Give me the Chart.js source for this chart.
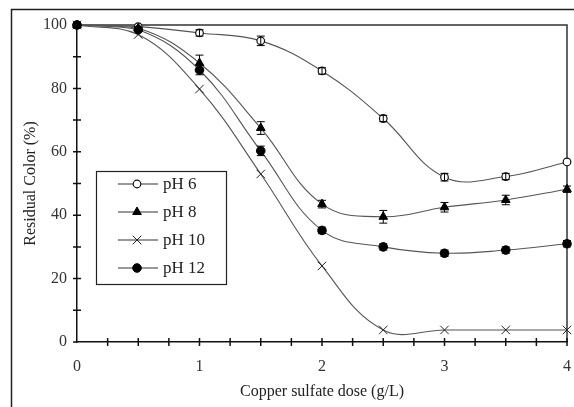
<!DOCTYPE html>
<html><head><meta charset="utf-8">
<script src="https://cdn.jsdelivr.net/npm/chart.js@4/dist/chart.umd.min.js"></script>
<style>html,body{margin:0;padding:0;background:#fff;}#wrap{width:574px;height:407px;position:relative;}</style>
</head><body><div id="wrap"><canvas id="c" width="574" height="407"></canvas></div>
<script>
const doses = [0, 0.5, 1, 1.5, 2, 2.5, 3, 3.5, 4];
const ph6  = [100, 99.5, 97.5, 95, 85.5, 70.5, 52, 52.2, 56.8];
const ph8  = [100, 99, 88, 67.5, 43.5, 39.5, 42.5, 44.8, 48.2];
const ph10 = [100, 97, 79.8, 53, 24, 3.8, 3.8, 3.8, 3.8];
const ph12 = [100, 98.5, 85.8, 60.3, 35.2, 30, 28, 29, 31];
const err6  = [0, 0, 1, 1.5, 1, 1, 1.2, 1, 0];
const err8  = [0, 0, 2.5, 2, 1.2, 2, 1.5, 1.5, 1];
const err10 = [0, 0, 0, 0, 0, 0, 0, 0, 0];
const err12 = [0, 0, 1.5, 1.5, 1, 1, 1, 1, 1];
const yTicks = [0, 20, 40, 60, 80, 100];
const xTicks = [0, 1, 2, 3, 4];
const seriesNames = ['pH 6', 'pH 8', 'pH 10', 'pH 12'];

function pts(vals){ return doses.map((d,i)=>({x:d, y:vals[i]})); }

const serif = "'Liberation Serif','DejaVu Serif',serif";
const lineCol = '#555';

const datasets = [
  {label: seriesNames[0], data: pts(ph6), err: err6, order: 4, pointStyle:'circle', pointRadius:3.8, backgroundColor:'#fff', borderColor:'#111', pointBorderWidth:1.2},
  {label: seriesNames[1], data: pts(ph8), err: err8, order: 3, pointStyle:'triangle', pointRadius:5, backgroundColor:'#000', borderColor:'#000', pointBorderWidth:1},
  {label: seriesNames[2], data: pts(ph10), err: err10, order: 2, pointStyle:'crossRot', pointRadius:6, backgroundColor:'#222', borderColor:'#222', pointBorderWidth:1},
  {label: seriesNames[3], data: pts(ph12), err: err12, order: 1, pointStyle:'circle', pointRadius:4.3, backgroundColor:'#000', borderColor:'#000', pointBorderWidth:1}
].map(d => Object.assign(d, {
  showLine: true, tension: 0.4, borderWidth: 1.1, clip: false,
  segment: {borderColor: () => lineCol},
  pointBackgroundColor: d.backgroundColor, pointBorderColor: d.borderColor,
  fill: false
}));

const framePlugin = {
  id: 'frame',
  beforeDraw(chart){
    const ctx = chart.ctx;
    ctx.save();
    ctx.strokeStyle = '#222'; ctx.lineWidth = 1.5;
    ctx.strokeRect(11.5, 9.5, 700, 600);
    ctx.restore();
  },
  beforeDatasetsDraw(chart){
    const ctx = chart.ctx, a = chart.chartArea;
    ctx.save();
    ctx.strokeStyle = '#333'; ctx.lineWidth = 1.5;
    ctx.beginPath();
    ctx.moveTo(a.left, a.top); ctx.lineTo(a.right, a.top); ctx.lineTo(a.right, a.bottom);
    ctx.stroke();
    ctx.restore();
  },
  afterDatasetsDraw(chart){
    const ctx = chart.ctx, xs = chart.scales.x, ys = chart.scales.y;
    ctx.save();
    ctx.strokeStyle = '#000'; ctx.lineWidth = 1;
    chart.data.datasets.forEach(ds => {
      ds.data.forEach((p,i) => {
        const e = ds.err[i]; if (!e) return;
        const px = xs.getPixelForValue(p.x);
        const y1 = ys.getPixelForValue(p.y + e), y2 = ys.getPixelForValue(p.y - e);
        ctx.beginPath();
        ctx.moveTo(px, y1); ctx.lineTo(px, y2);
        ctx.moveTo(px-4, y1); ctx.lineTo(px+4, y1);
        ctx.moveTo(px-4, y2); ctx.lineTo(px+4, y2);
        ctx.stroke();
      });
    });
    ctx.restore();
  },
  afterDraw(chart){
    const ctx = chart.ctx, xs = chart.scales.x, ys = chart.scales.y, a = chart.chartArea;
    ctx.save();
    ctx.strokeStyle = '#111'; ctx.lineWidth = 1.5;
    ctx.beginPath();
    for (let v = 10; v <= 90; v += 10) {
      const py = ys.getPixelForValue(v);
      ctx.moveTo(a.left-4, py); ctx.lineTo(a.left+4, py);
    }
    ctx.moveTo(a.left-4, ys.getPixelForValue(0)); ctx.lineTo(a.left, ys.getPixelForValue(0));
    ctx.moveTo(a.left-4, ys.getPixelForValue(100)); ctx.lineTo(a.left, ys.getPixelForValue(100));
    for (let v = 0.25; v <= 4; v += 0.25) {
      const px = xs.getPixelForValue(v);
      ctx.moveTo(px, a.bottom-4); ctx.lineTo(px, a.bottom+4);
    }
    ctx.stroke();
    // legend
    const bx = 96.5, by = 171.5, bw = 130, bh = 113;
    ctx.fillStyle = '#fff';
    ctx.fillRect(bx, by, bw, bh);
    ctx.strokeStyle = '#222'; ctx.lineWidth = 1.2;
    ctx.strokeRect(bx, by, bw, bh);
    const rows = [184, 212, 240, 268];
    ctx.font = '17px ' + serif;
    ctx.textBaseline = 'middle';
    chart.data.datasets.forEach((ds, i) => {
      const y = rows[i];
      ctx.strokeStyle = '#333'; ctx.lineWidth = 1.2;
      ctx.beginPath(); ctx.moveTo(118, y); ctx.lineTo(158, y); ctx.stroke();
      ctx.fillStyle = ds.pointBackgroundColor; ctx.strokeStyle = ds.pointBorderColor;
      ctx.lineWidth = ds.pointBorderWidth;
      Chart.helpers.drawPoint(ctx, {pointStyle: ds.pointStyle, radius: ds.pointRadius, rotation: 0, borderWidth: ds.pointBorderWidth}, 137, y);
      ctx.fillStyle = '#222';
      ctx.fillText(ds.label, 163, y + 1);
    });
    ctx.restore();
  }
};

new Chart(document.getElementById('c'), {
  type: 'scatter',
  data: { datasets },
  options: {
    responsive: false, animation: false,
    layout: { padding: { left: 0, top: 25, right: 5, bottom: 0 } },
    plugins: { legend: { display: false }, tooltip: { enabled: false } },
    scales: {
      x: {
        type: 'linear', min: 0, max: 4,
        afterBuildTicks: s => { s.ticks = xTicks.map(v => ({value: v})); },
        afterFit: s => { s.height = 65; },
        grid: { display: true, drawOnChartArea: false, drawTicks: true, tickLength: 15, color: 'rgba(0,0,0,0)', tickColor: 'rgba(0,0,0,0)' },
        border: { display: true, color: '#111', width: 1.5 },
        ticks: { color: '#333', font: { family: serif, size: 16 }, padding: 0 },
        title: { display: true, text: 'Copper sulfate dose (g/L)', color: '#222', font: { family: serif, size: 16 }, padding: { top: 0, bottom: 6 } }
      },
      y: {
        type: 'linear', min: 0, max: 100,
        afterBuildTicks: s => { s.ticks = yTicks.map(v => ({value: v})); },
        afterFit: s => { s.width = 77; },
        grid: { display: true, drawOnChartArea: false, drawTicks: true, tickLength: 10, color: 'rgba(0,0,0,0)', tickColor: 'rgba(0,0,0,0)' },
        border: { display: true, color: '#111', width: 1.5 },
        ticks: { color: '#333', font: { family: serif, size: 16 }, padding: 0 },
        title: { display: true, text: 'Residual Color (%)', color: '#222', font: { family: serif, size: 16 }, padding: { top: 21, bottom: 0 } }
      }
    }
  },
  plugins: [framePlugin]
});
</script></body></html>
